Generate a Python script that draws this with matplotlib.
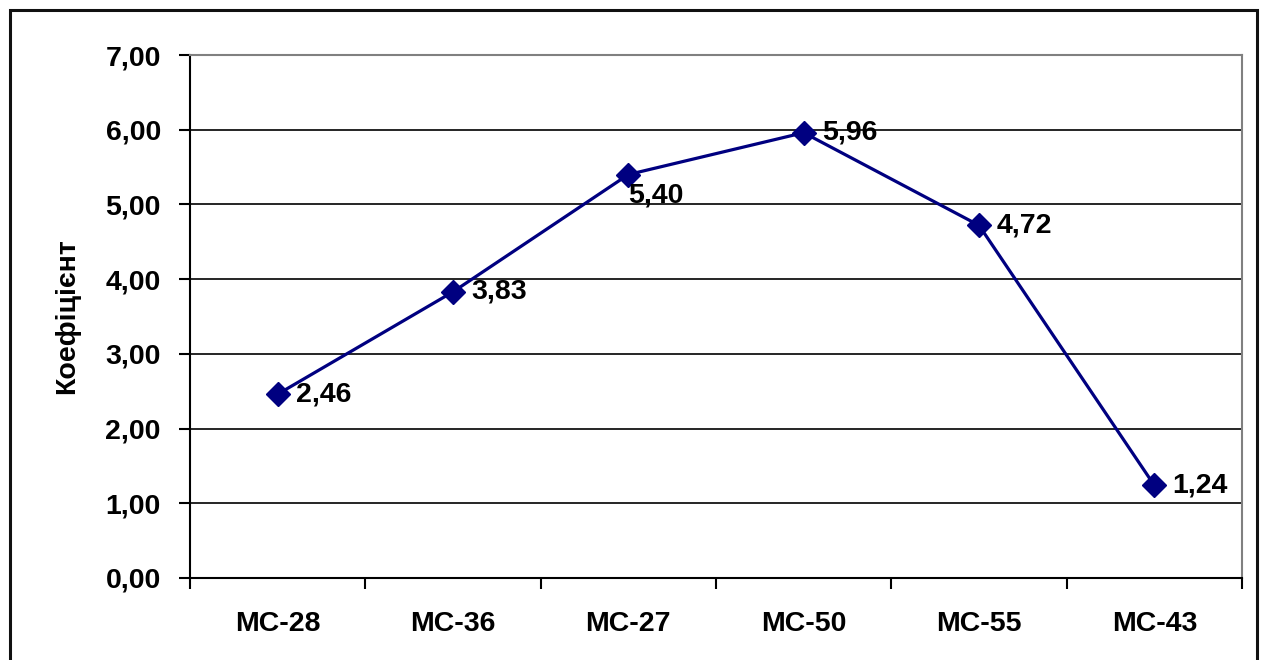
import matplotlib
matplotlib.use('Agg')
import matplotlib.pyplot as plt
from matplotlib.patches import Rectangle

# samples and their coefficient values
samples = ['МС-28', 'МС-36', 'МС-27', 'МС-50', 'МС-55', 'МС-43']
coef = [2.46, 3.83, 5.40, 5.96, 4.72, 1.24]
yticks = [0, 1, 2, 3, 4, 5, 6, 7]
ytick_labels = ['0,00', '1,00', '2,00', '3,00', '4,00', '5,00', '6,00', '7,00']

plt.rcParams['font.family'] = ['Liberation Sans', 'DejaVu Sans']
plt.rcParams['font.weight'] = 'bold'
fs = 20.5

fig = plt.figure(figsize=(12.64, 6.6), dpi=100)
ax = fig.add_axes([190/1264, 82/660, 1052/1264, 523/660])

# outer frame round the whole chart
fig.patches.append(Rectangle((10/1264, -0.05), 1247/1264, 1.05 - 10/660,
                             transform=fig.transFigure, fill=False,
                             edgecolor='#111111', linewidth=2.2))

x = list(range(len(samples)))
ax.plot(x, coef, color='#000080', linewidth=2.3, marker='D', markersize=12,
        markerfacecolor='#000080', markeredgecolor='#000080', zorder=3)

# value labels, right of the points except 5,40 which sits below
for i, v in enumerate(coef):
    txt = '{:.2f}'.format(v).replace('.', ',')
    if i == 2:
        ax.annotate(txt, (i, v), xytext=(0, -6), textcoords='offset points',
                    ha='left', va='top', fontsize=fs, fontweight='bold')
    else:
        ax.annotate(txt, (i, v), xytext=(13, 0), textcoords='offset points',
                    ha='left', va='center', fontsize=fs, fontweight='bold')

ax.set_xlim(-0.5, len(samples) - 0.5)
ax.set_ylim(0, 7)
ax.set_yticks(yticks)
ax.set_yticklabels(ytick_labels)

# ticks at the category boundaries, labels at the centres
ax.set_xticks([i - 0.5 for i in range(len(samples) + 1)])
ax.set_xticklabels([])
ax.set_xticks(x, minor=True)
ax.set_xticklabels(samples, minor=True)
ax.tick_params(axis='x', which='major', length=8, width=1.5, direction='out')
ax.tick_params(axis='x', which='minor', length=0, pad=24, labelsize=fs)
ax.tick_params(axis='y', length=8, width=1.5, direction='out', pad=13, labelsize=fs)

ax.yaxis.grid(True, color='black', linewidth=1.2)
ax.set_axisbelow(True)
for s in ['left', 'bottom']:
    ax.spines[s].set_color('black')
    ax.spines[s].set_linewidth(1.5)
for s in ['top', 'right']:
    ax.spines[s].set_color('#808080')
    ax.spines[s].set_linewidth(1.5)

ax.set_ylabel('Коефіцієнт', fontsize=fs, fontweight='bold')
ax.yaxis.set_label_coords(-110/1052, 0.5)

fig.savefig('out.png', dpi=100)
